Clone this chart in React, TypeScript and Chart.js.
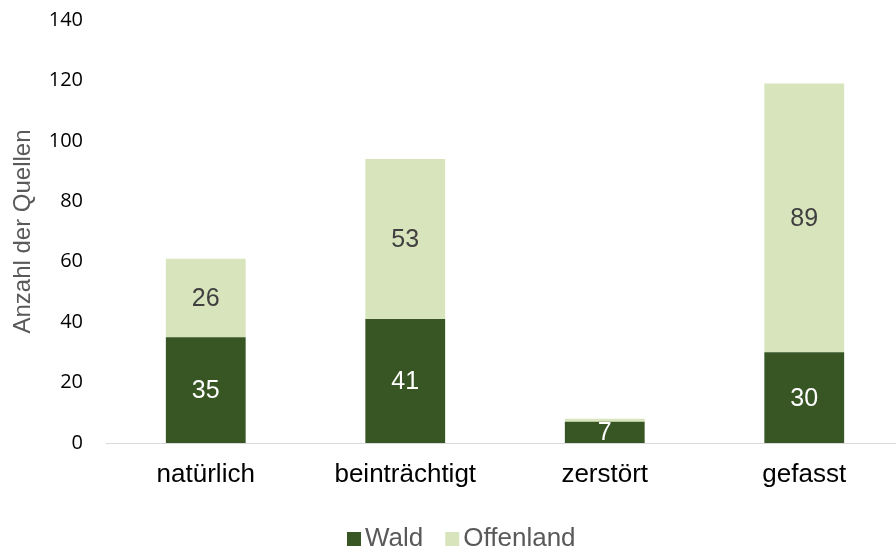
import React, { useEffect, useRef } from "react";
import { Chart, registerables } from "chart.js";

Chart.register(...registerables);

const categories = ["natürlich", "beinträchtigt", "zerstört", "gefasst"];
const waldValues = [35, 41, 7, 30];
const offenlandValues = [26, 53, 1, 89];
const seriesNames = ["Wald", "Offenland"];
const yTicks = [0, 20, 40, 60, 80, 100, 120, 140];

const DARK = "#375623";
const LIGHT = "#D8E4BC";
const ARIAL = "'Liberation Sans', Arial, sans-serif";

const labelPlugin = {
  id: "segLabels",
  afterDatasetsDraw(chart: any) {
    const ctx = chart.ctx;
    ctx.save();
    ctx.font = "25px " + ARIAL;
    ctx.textAlign = "center";
    ctx.textBaseline = "middle";
    chart.data.datasets.forEach((ds: any, di: number) => {
      const meta = chart.getDatasetMeta(di);
      meta.data.forEach((el: any, i: number) => {
        const v = ds.data[i];
        if (v < 3) return;
        const cy = (el.y + el.base) / 2;
        ctx.fillStyle = di === 0 ? "#ffffff" : "#404040";
        ctx.fillText(String(v), el.x, cy + 1);
      });
    });
    ctx.restore();
  },
};

const legendPlugin = {
  id: "customLegend",
  afterDraw(chart: any) {
    const ctx = chart.ctx;
    ctx.save();
    ctx.font = "26px " + ARIAL;
    ctx.textBaseline = "alphabetic";
    ctx.textAlign = "left";
    const baseline = 546;
    const box = 14;
    const gap = 4;
    const between = 22;
    const items = chart.data.datasets.map((d: any) => ({ label: d.label, color: d.backgroundColor }));
    let x = 347;
    items.forEach((it: any) => {
      ctx.fillStyle = it.color;
      ctx.fillRect(x, baseline - box, box, box);
      x += box + gap;
      ctx.fillStyle = "#595959";
      ctx.fillText(it.label, x, baseline);
      x += ctx.measureText(it.label).width + between;
    });
    ctx.restore();
  },
};

export default function App() {
  const ref = useRef<HTMLCanvasElement>(null);
  useEffect(() => {
    if (!ref.current) return;
    const chart = new Chart(ref.current, {
      type: "bar",
      data: {
        labels: categories,
        datasets: [
          { label: seriesNames[0], data: waldValues, backgroundColor: DARK, barPercentage: 0.4, categoryPercentage: 1 },
          { label: seriesNames[1], data: offenlandValues, backgroundColor: LIGHT, barPercentage: 0.4, categoryPercentage: 1 },
        ],
      },
      options: {
        animation: false,
        responsive: false,
        devicePixelRatio: 1,
        layout: { padding: { top: 20, left: 0, right: 0, bottom: 0 } },
        plugins: { legend: { display: false }, tooltip: { enabled: false } },
        scales: {
          x: {
            stacked: true,
            grid: { display: false, drawTicks: false },
            border: { display: true, color: "#d9d9d9", width: 1 },
            ticks: {
              color: "#000000",
              padding: 16,
              font: { size: 26, family: ARIAL },
              maxRotation: 0,
            },
            afterFit: (s: any) => { s.height = 111; s.paddingLeft = 0; s.paddingRight = 0; },
          },
          y: {
            stacked: true,
            min: 0,
            max: 140,
            grid: { display: false, drawTicks: false },
            border: { display: false },
            afterBuildTicks: (s: any) => { s.ticks = yTicks.map((v) => ({ value: v })); },
            ticks: {
              color: "#000000",
              padding: 23,
              font: { size: 20, family: "'Open Sans', sans-serif" },
            },
            title: {
              display: true,
              text: "Anzahl der Quellen",
              color: "#595959",
              padding: { top: 9, bottom: 0 },
              font: { size: 24, family: ARIAL },
            },
            afterFit: (s: any) => { s.width = 106; s.paddingTop = 0; s.paddingBottom = 0; },
          },
        },
      },
      plugins: [labelPlugin, legendPlugin],
    });
    return () => chart.destroy();
  }, []);
  return (
    <div style={{ position: "fixed", left: 0, top: 0, width: 896, height: 554, overflow: "hidden", background: "#fff" }}>
      <canvas ref={ref} width={904} height={554} style={{ display: "block", width: 904, height: 554 }} />
    </div>
  );
}
